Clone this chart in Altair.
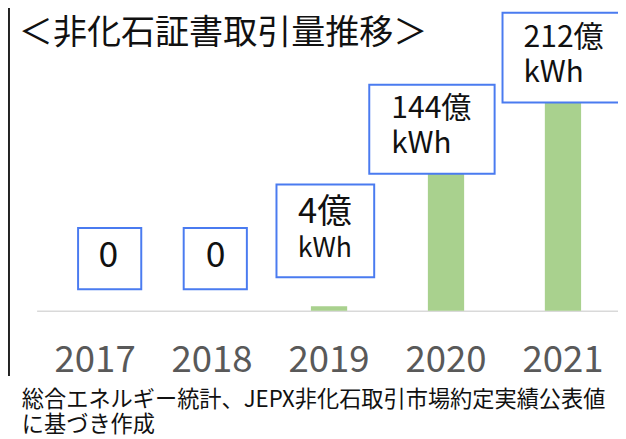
import altair as alt
import pandas as pd

# ---- data ----
years = ["2017", "2018", "2019", "2020", "2021"]
values = [0, 0, 4, 144, 212]          # 億kWh
unit = "kWh"
title_text = "＜非化石証書取引量推移＞"
source_lines = ["総合エネルギー統計、JEPX非化石取引市場約定実績公表値", "に基づき作成"]

df = pd.DataFrame({"year": years, "value": values})
df["line1"] = [str(v) if v == 0 else f"{v}億" for v in values]
df["line2"] = ["" if v == 0 else unit for v in values]

# ---- layout helpers (page has an 8px margin) ----
M = 8
def px(a):
    return a - M

W, H = 618, 304
FONT = "Noto Sans CJK JP"
BLUE = "#4A7BF0"
GREEN = "#A9D18E"

x_scale = alt.Scale(domain=years, range=[px(37), px(629.5)], paddingInner=0.69, paddingOuter=0.345)
y_scale = alt.Scale(domain=[0, 264], nice=False, zero=True)

x_enc = alt.X("year:N", scale=x_scale, sort=years,
              axis=alt.Axis(title=None, labelAngle=0, labelFontSize=37, labelColor="#595959",
                            labelFont=FONT, labelBaseline="alphabetic", labelPadding=61,
                            ticks=False, domainColor="#D9D9D9", domainWidth=1.5, grid=False,
                            labelOverlap=False))

bars = alt.Chart(df).mark_bar(color=GREEN).encode(
    x=x_enc,
    y=alt.Y("value:Q", scale=y_scale, axis=None),
)

# per-label box styling: (xOffset, width, top, bottom) in absolute px
box_style = {
    "2017": (14.75, 64, 228, 290),
    "2018": (3.25, 64, 228, 290),
    "2019": (-3.75, 99, 184, 278),
    "2020": (-14.25, 127, 83, 173),
    "2021": (2.25, 127, 10, 101),
}
# text styling: (align, dx, size1, baseline1, size2, baseline2)
text_style = {
    "2017": ("center", 13.5, 36, 268, 25, 0),
    "2018": ("center", 3.5, 36, 268, 25, 0),
    "2019": ("center", -4.25, 35, 223, 27, 257),
    "2020": ("left", -55.5, 30.5, 117, 30, 152),
    "2021": ("left", -40.0, 30.5, 45, 30, 80),
}

layers = [bars]
for yr in years:
    xo, w, t, b = box_style[yr]
    layers.append(
        alt.Chart(df).transform_filter(alt.datum.year == yr)
        .mark_bar(fill="white", stroke=BLUE, strokeWidth=2, width=w, xOffset=xo)
        .encode(x=x_enc, y=alt.value(px(t)), y2=alt.value(px(b)))
    )
    align, dx, s1, b1, s2, b2 = text_style[yr]
    layers.append(
        alt.Chart(df).transform_filter(alt.datum.year == yr)
        .mark_text(align=align, baseline="alphabetic", dx=dx, fontSize=s1, font=FONT, color="#111111")
        .encode(x=x_enc, y=alt.value(px(b1)), text="line1:N")
    )
    if b2:
        layers.append(
            alt.Chart(df).transform_filter(alt.datum.year == yr)
            .mark_text(align=align, baseline="alphabetic", dx=dx, fontSize=s2, font=FONT, color="#111111")
            .encode(x=x_enc, y=alt.value(px(b2)), text="line2:N")
        )

title = alt.Chart(pd.DataFrame({"t": [title_text]})).mark_text(
    align="left", baseline="alphabetic", fontSize=34.5, font=FONT, color="#111111"
).encode(x=alt.value(px(19)), y=alt.value(px(42)), text="t:N")

src = pd.DataFrame({"t": source_lines, "i": [0, 1]})
footer1 = alt.Chart(src).transform_filter(alt.datum.i == 0).mark_text(
    align="left", baseline="alphabetic", fontSize=22.5, font=FONT, color="#111111"
).encode(x=alt.value(px(22)), y=alt.value(px(409)), text="t:N")
footer2 = alt.Chart(src).transform_filter(alt.datum.i == 1).mark_text(
    align="left", baseline="alphabetic", fontSize=22.5, font=FONT, color="#111111"
).encode(x=alt.value(px(22)), y=alt.value(px(435)), text="t:N")

border = alt.Chart(pd.DataFrame({"a": [0]})).mark_rule(color="#222222", strokeWidth=2).encode(
    x=alt.value(1), y=alt.value(-10), y2=alt.value(px(378))
)

chart = alt.layer(*layers, title, footer1, footer2, border).properties(
    width=W, height=H,
    autosize=alt.AutoSizeParams(type="none"),
    padding={"left": 0, "top": 0, "right": 0, "bottom": 439 - M - H},
    background="white",
).configure_view(stroke=None)

chart.save("out.html", embed_options={"renderer": "svg", "actions": False})
